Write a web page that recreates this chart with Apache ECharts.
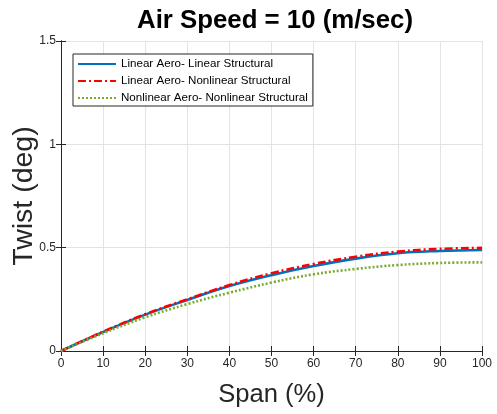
<!DOCTYPE html>
<html>
<head>
<meta charset="utf-8">
<script src="https://cdn.jsdelivr.net/npm/echarts@6/dist/echarts.min.js"></script>
<style>html,body{margin:0;padding:0;background:#fff;}#c{width:497px;height:414px;}</style>
</head>
<body>
<div id="c"></div>
<script>
const span = [0, 10, 20, 30, 40, 50, 60, 70, 80, 90, 100];
const linLin = [0, 0.092, 0.176, 0.247, 0.314, 0.367, 0.411, 0.447, 0.473, 0.484, 0.489];
const linNonlin = [0, 0.093, 0.178, 0.250, 0.319, 0.376, 0.421, 0.456, 0.481, 0.494, 0.499];
const nonlinNonlin = [0, 0.086, 0.163, 0.227, 0.282, 0.331, 0.371, 0.397, 0.416, 0.426, 0.429];
const names = ['Linear Aero- Linear Structural', 'Linear Aero- Nonlinear Structural', 'Nonlinear Aero- Nonlinear Structural'];

const pair = arr => span.map((x, i) => [x, arr[i]]);
const txt = '#262626';
const font = 'Liberation Sans, Arial, Helvetica, sans-serif';

const chart = echarts.init(document.getElementById('c'));
chart.setOption({
  animation: false,
  backgroundColor: '#fff',
  title: {
    text: 'Air Speed = 10 (m/sec)',
    left: 275, top: 8, textAlign: 'center', padding: 0,
    textStyle: { fontFamily: font, fontSize: 25.8, fontWeight: 'bold', color: '#000' }
  },
  legend: {
    orient: 'vertical', left: 73, top: 54,
    backgroundColor: '#fff',
    borderColor: '#262626', borderWidth: 1, borderRadius: 0,
    padding: [4, 5, 2, 4],
    itemWidth: 38, itemHeight: 12, itemGap: 5,
    itemStyle: { opacity: 0 },
    textStyle: { fontFamily: font, fontSize: 11.6, color: '#000' },
    data: names
  },
  grid: { left: 61, right: 15, top: 41, bottom: 63, containLabel: false, outerBoundsMode: 'none' },
  xAxis: [{
    type: 'value', min: 0, max: 100, interval: 10,
    name: 'Span (%)', nameLocation: 'middle', nameGap: 31, nameMoveOverlap: false,
    nameTextStyle: { fontFamily: font, fontSize: 25.6, color: txt, verticalAlign: 'top' },
    axisLine: { show: true, onZero: false, lineStyle: { color: txt, width: 1 } },
    axisTick: { show: true, inside: true, length: 5, lineStyle: { color: txt } },
    axisLabel: { fontFamily: font, fontSize: 12, color: txt, margin: 7 },
    splitLine: { show: true, lineStyle: { color: '#e3e3e3', width: 1 } }
  }, {
    type: 'value', position: 'top', min: 0, max: 100, interval: 10,
    axisLine: { show: true, lineStyle: { color: txt, width: 1 } },
    axisTick: { show: true, inside: true, length: 5, lineStyle: { color: txt } },
    axisLabel: { show: false }, splitLine: { show: false }
  }],
  yAxis: [{
    type: 'value', min: 0, max: 1.5, interval: 0.5,
    name: 'Twist (deg)', nameLocation: 'middle', nameGap: 22, nameMoveOverlap: false,
    nameTextStyle: { fontFamily: font, fontSize: 28.5, color: txt },
    axisLine: { show: true, onZero: false, lineStyle: { color: txt, width: 1 } },
    axisTick: { show: true, inside: true, length: 5, lineStyle: { color: txt } },
    axisLabel: { fontFamily: font, fontSize: 12, color: txt, margin: 5 },
    splitLine: { show: true, lineStyle: { color: '#e3e3e3', width: 1 } }
  }, {
    type: 'value', position: 'right', min: 0, max: 1.5, interval: 0.5,
    axisLine: { show: true, lineStyle: { color: txt, width: 1 } },
    axisTick: { show: true, inside: true, length: 5, lineStyle: { color: txt } },
    axisLabel: { show: false }, splitLine: { show: false }
  }],
  series: [{
    name: names[0], type: 'line', data: pair(linLin), smooth: 0.4, showSymbol: false, symbol: 'none',
    itemStyle: { color: '#0072BD' }, lineStyle: { color: '#0072BD', width: 2.6, type: 'solid' }, z: 3
  }, {
    name: names[1], type: 'line', data: pair(linNonlin), smooth: 0.4, showSymbol: false, symbol: 'none',
    itemStyle: { color: '#FF0000' }, lineStyle: { color: '#FF0000', width: 2.6, type: [8, 3, 2, 3] }, z: 4
  }, {
    name: names[2], type: 'line', data: pair(nonlinNonlin), smooth: 0.4, showSymbol: false, symbol: 'none',
    itemStyle: { color: '#77AC30' }, lineStyle: { color: '#77AC30', width: 2.6, type: [2, 2] }, z: 5
  }]
});
</script>
</body>
</html>
